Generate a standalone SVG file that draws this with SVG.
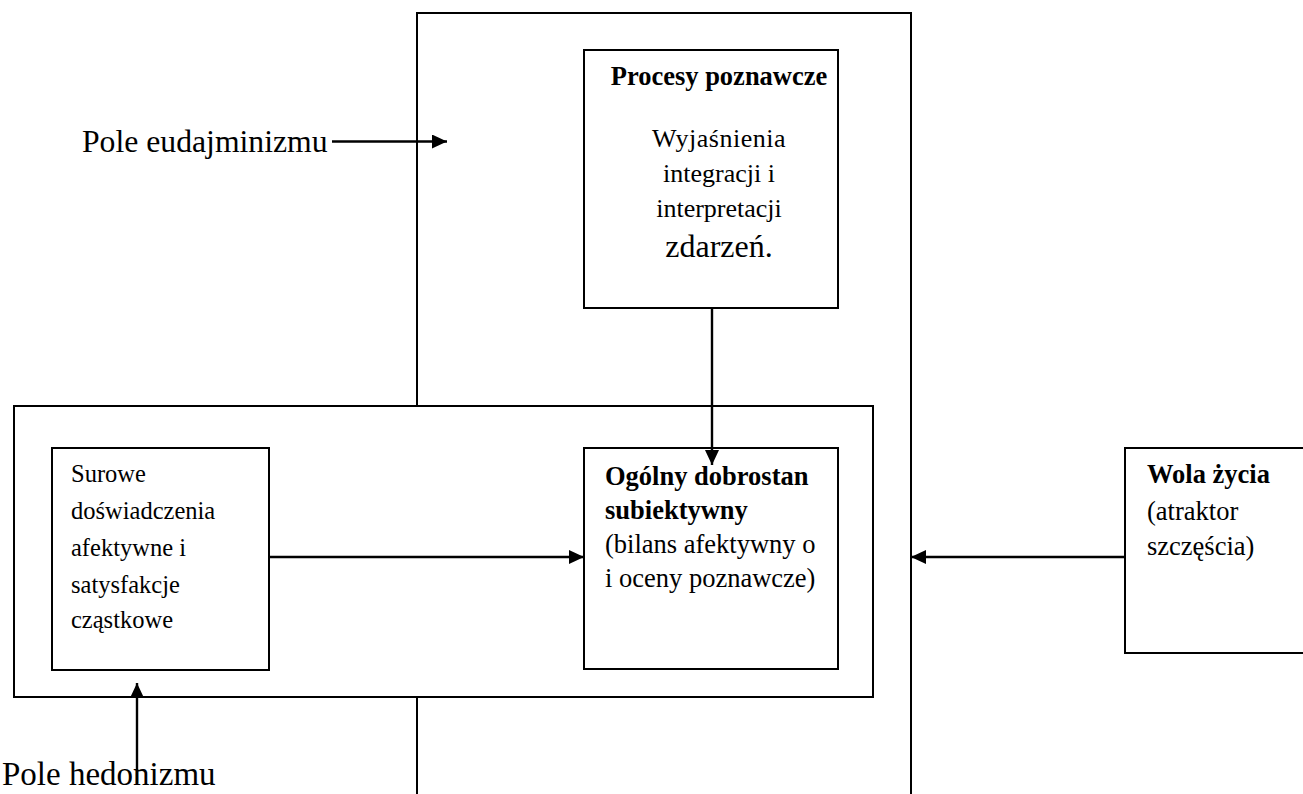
<svg xmlns="http://www.w3.org/2000/svg" width="1303" height="794" viewBox="0 0 1303 794">
<style>
.box{fill:#fff;stroke:#000;stroke-width:2}
.frame{fill:none;stroke:#000;stroke-width:2}
.t{font-family:"Liberation Serif","Times New Roman",serif;fill:#000}
.b{font-weight:bold}
.con{stroke:#000;stroke-width:2.4;fill:none}
</style>
<defs>
<marker id="ah" viewBox="0 0 15 14" refX="15" refY="7" markerWidth="15" markerHeight="14" markerUnits="userSpaceOnUse" orient="auto">
<path d="M0,0 L15,7 L0,14 Z" fill="#000"/>
</marker>
</defs>
<rect width="1303" height="794" fill="#fff"/>
<g id="pole-eudajmonizmu-field">
<rect class="frame" x="417" y="13" width="494" height="800"/>
</g>
<g id="pole-hedonizmu-field">
<rect class="box" x="14" y="406" width="859" height="291"/>
</g>
<g id="procesy">
<rect class="box" x="584" y="50" width="254" height="258"/>
<text class="t b" x="719" y="85" font-size="26.5" text-anchor="middle">Procesy poznawcze</text>
<text class="t" x="719" y="147" font-size="26" text-anchor="middle" letter-spacing="0.5">Wyjaśnienia</text>
<text class="t" x="719" y="182" font-size="26" text-anchor="middle">integracji i</text>
<text class="t" x="719" y="217" font-size="26" text-anchor="middle">interpretacji</text>
<text class="t" x="719" y="257" font-size="32" text-anchor="middle">zdarzeń.</text>
</g>
<g id="surowe">
<rect class="box" x="52" y="448" width="217" height="222"/>
<text class="t" x="71" font-size="24.5"><tspan x="71" y="482">Surowe</tspan><tspan x="71" y="519">doświadczenia</tspan><tspan x="71" y="556">afektywne i</tspan><tspan x="71" y="593">satysfakcje</tspan><tspan x="71" y="628">cząstkowe</tspan></text>
</g>
<g id="ogolny">
<rect class="box" x="584" y="448" width="254" height="221"/>
<text class="t b" x="605" y="485" font-size="26.5">Ogólny dobrostan</text>
<text class="t b" x="605" y="519" font-size="26.5">subiektywny</text>
<text class="t" x="605" y="553" font-size="26.5">(bilans afektywny o</text>
<text class="t" x="605" y="587" font-size="26.5">i oceny poznawcze)</text>
</g>
<g id="wola">
<rect class="box" x="1125" y="448" width="200" height="205"/>
<text class="t b" x="1147" y="483" font-size="26.5">Wola życia</text>
<text class="t" x="1147" y="520" font-size="26.5">(atraktor</text>
<text class="t" x="1147" y="555" font-size="26.5">szczęścia)</text>
</g>
<g id="label-eudajmonizm">
<text class="t" x="82" y="152" font-size="31.7">Pole eudajminizmu</text>
</g>
<g id="label-hedonizm">
<text class="t" x="2" y="785" font-size="33">Pole hedonizmu</text>
</g>
<g id="connectors">
<line class="con" x1="332" y1="141.5" x2="447" y2="141.5" marker-end="url(#ah)"/>
<line class="con" x1="712" y1="308" x2="712" y2="465" marker-end="url(#ah)"/>
<line class="con" x1="269" y1="557" x2="584" y2="557" marker-end="url(#ah)"/>
<line class="con" x1="1125" y1="557" x2="911" y2="557" marker-end="url(#ah)"/>
<line class="con" x1="137" y1="783" x2="137" y2="683" marker-end="url(#ah)"/>
</g>
</svg>
